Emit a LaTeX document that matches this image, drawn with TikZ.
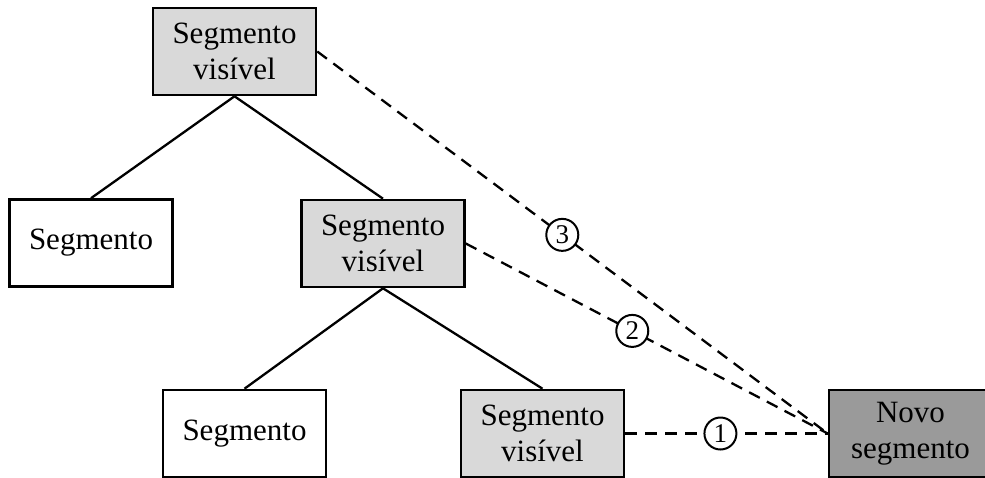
\documentclass[tikz,border=0pt]{standalone}
\usepackage{fontspec}
\setmainfont{Liberation Serif}
\usepackage{xcolor}
\usetikzlibrary{arrows.meta,positioning}
\definecolor{visgray}{HTML}{D9D9D9}
\definecolor{newgray}{HTML}{9A9A9A}

\begin{document}
\begin{tikzpicture}[
    x=1pt, y=-1pt,
    segbox/.style={draw=black, line width=2.6pt, fill=white, align=center,
                 font=\fontsize{31}{36}\selectfont, inner sep=0pt,
                 minimum width=163pt, minimum height=87pt},
    visbox/.style={segbox, fill=visgray},
    newbox/.style={segbox, fill=newgray},
    branch/.style={draw=black, line width=2.3pt},
    link/.style={draw=black, line width=2.3pt, dash pattern=on 12pt off 8pt},
    num/.style={circle, draw=black, solid, line width=2pt, fill=white,
                inner sep=0pt, minimum size=32pt,
                font=\fontsize{27}{27}\selectfont}]
  \useasboundingbox (0,0) rectangle (985,477);
  \node[visbox] (vis1) at (234.5,51.5) {Segmento\\visível};
  \node[segbox] (seg1) at (91,243) {Segmento};
  \node[visbox] (vis2) at (383,243.5) {Segmento\\visível};
  \node[segbox] (seg2) at (244.5,433.5) {Segmento};
  \node[visbox] (vis3) at (542.5,433.5) {Segmento\\visível};
  \node[newbox] (novo) at (910.5,433.5) {Novo\\segmento};
  \draw[branch] (vis1.south) -- (seg1.north);
  \draw[branch] (vis1.south) -- (vis2.north);
  \draw[branch] (vis2.south) -- (seg2.north);
  \draw[branch] (vis2.south) -- (vis3.north);
  \draw[link] (vis1.east) -- node[num, pos=0.48] {3} (novo.west);
  \draw[link] (vis2.east) -- node[num, pos=0.46] {2} (novo.west);
  \draw[link] (vis3.east) -- node[num, pos=0.47] {1} (novo.west);
\end{tikzpicture}
\end{document}
